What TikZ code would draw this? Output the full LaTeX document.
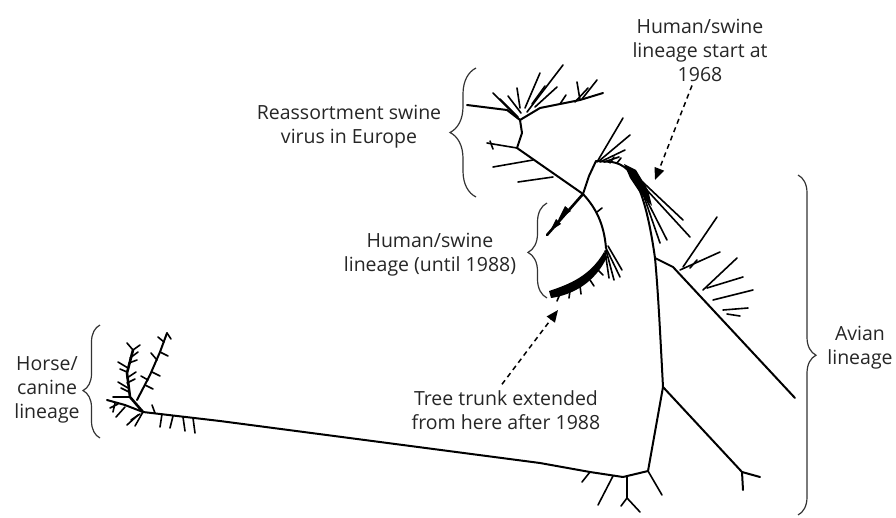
\documentclass[tikz,border=0pt]{standalone}
\usepackage{fontspec}
\setmainfont{Open Sans}
\usepackage{tikz}
\usetikzlibrary{arrows.meta, decorations.pathreplacing}

\begin{document}
\begin{tikzpicture}[x=1pt, y=-1pt,
    branch/.style={line width=2pt, line cap=round, line join=round},
    twig/.style={line width=1.6pt, line cap=round},
    lbl/.style={font=\fontsize{19.5}{24}\selectfont, text=black!85, align=center, inner sep=0pt},
    bracket/.style args={#1/#2}{decorate, decoration={brace, amplitude=#1, aspect=#2}, line width=1.2pt, draw=black!80},
    pointer/.style={dash pattern=on 5pt off 4pt, line width=1.5pt, -{Triangle[length=12pt, width=10pt]}},
]
\useasboundingbox (0,0) rectangle (896,517);

% Junctions of the tree
\coordinate (hc) at (143,412);
\coordinate (bj) at (648,471);
\coordinate (aj) at (663,387);
\coordinate (af) at (742,472);
\coordinate (ab) at (655,258);
\coordinate (hs) at (596,161);
\coordinate (xj) at (583,194);
\coordinate (ej) at (517,148);
\coordinate (et) at (520,120);
\coordinate (hl) at (606,248);

% Trunk and main branches
\draw[branch] (hc) -- (220,421) -- (540,463) -- (590,472) -- (623,477) -- (bj);
\draw[branch] (bj) -- (aj) .. controls (660,330) and (658,290) .. (ab)
    .. controls (651,230) and (646,205) .. (638,186)
    .. controls (632,172) and (624,164) .. (612,162) -- (hs);
\draw[branch] (ab) -- (673,267) -- (795,398);
\draw[branch] (aj) -- (af) -- (760,477);
\draw[branch] (af) -- (743,490);
\draw[branch] (hs) -- (589,176) -- (xj);
\draw[branch] (467,105) -- (507,110) -- (et) -- (540,108) -- (580,100) -- (603,93);
\draw[branch] (et) -- (522,133) -- (ej) -- (xj);
\draw[branch] (xj) .. controls (596,208) and (604,224) .. (hl);
\draw[line width=2.6pt, line cap=round] (xj) -- (547,235);

% Horse/canine cluster
\draw[line width=2.6pt, line cap=round, line join=round] (hc) -- (130,397) -- (127,373) -- (133,350);
\draw[branch] (137,400) -- (150,375) -- (160,352) -- (167,333);
\draw[branch] (hc) -- (125,405) -- (107,400);
\foreach \xa/\ya/\xb/\yb in {130/397/113/397, 128/388/118/382, 127/378/136/372,
    128/368/118/362, 130/358/138/352, 133/350/127/343, 133/350/140/345,
    129/392/121/388, 127/383/135/379, 127/372/120/369, 129/363/137/360,
    145/385/153/389, 152/372/160/376, 157/360/151/353, 160/352/168/356,
    164/342/158/337, 167/333/171/339, 148/380/141/376, 115/403/113/412,
    125/407/116/417, 138/415/127/425, 143/412/135/426, 140/414/131/420,
    118/404/110/408, 162/414/160/427, 173/416/170/428, 183/417/185/431,
    193/418/195/433, 155/413/152/405}
    \draw[twig] (\xa,\ya) -- (\xb,\yb);

% Bottom of the trunk
\foreach \xa/\ya/\xb/\yb in {590/472/582/482, 613/476/598/505, 627/477/627/498,
    627/498/640/512, 627/498/621/506, 648/471/662/495}
    \draw[twig] (\xa,\ya) -- (\xb,\yb);

% Avian twigs
\foreach \xa/\ya/\xb/\yb in {683/267/717/217, 680/270/720/252, 690/268/697/260,
    703/290/737/258, 707/288/743/277, 713/300/753/290, 723/310/748/308,
    727/314/740/316}
    \draw[twig] (\xa,\ya) -- (\xb,\yb);

% Reassortment swine in Europe
\foreach \xa/\ya/\xb/\yb in {493/93/520/120, 500/99/518/117, 508/96/521/113,
    525/108/540/73, 527/112/563/65, 535/107/557/87, 532/104/545/86,
    517/88/520/108, 580/100/577/82, 582/99/597/80, 575/102/588/88,
    560/104/566/95, 487/143/517/148, 490/141/493/149, 533/160/493/167,
    553/177/518/182}
    \draw[twig] (\xa,\ya) -- (\xb,\yb);

% Human/swine, start at 1968
\fill (624,164) -- (636,170) -- (648,190) -- (652,206) -- (640,193) -- (630,178) -- cycle;
\foreach \xa/\ya/\xb/\yb in {597/162/623/118, 599/161/630/135, 600/162/625/150,
    604/162/619/157, 610/163/614/157, 617/163/621/158, 632/172/683/220,
    634/176/690/237, 637/181/667/240, 640/185/660/243}
    \draw[twig] (\xa,\ya) -- (\xb,\yb);

% Human/swine until 1988
\fill (565,206) -- (558,220) -- (571,211) -- cycle;
\fill (556,219) -- (550,231) -- (561,224) -- cycle;
\fill (549,291) .. controls (570,284) and (590,276) .. (604,252)
    -- (607,257) .. controls (595,283) and (572,295) .. (551,298) -- cycle;
\foreach \xa/\ya/\xb/\yb in {560/294/557/301, 570/291/569/298, 580/286/581/294,
    590/280/594/286, 598/270/603/275, 606/248/620/277, 606/250/614/280,
    608/246/622/270, 605/251/609/278, 597/212/602/208}
    \draw[twig] (\xa,\ya) -- (\xb,\yb);

% Brackets
\draw[bracket=26/0.5] (476,197) -- (476,68);
\draw[bracket=19/0.48] (547,298) -- (547,203);
\draw[bracket=17/0.42] (100,438) -- (100,325);
\draw[bracket=18/0.53] (798,175) -- (798,515);

% Labels
\node[lbl] (europe) at (349,127) {Reassortment swine\\virus in Europe};
\node[lbl] (hs88) at (430,255) {Human/swine\\lineage (until 1988)};
\node[lbl] (hs68) at (700,50) {Human/swine\\lineage start at\\1968};
\node[lbl] (horse) at (47,390) {Horse/\\canine\\lineage};
\node[lbl] (avian) at (860,348) {Avian\\lineage};
\node[lbl] (trunk) at (506,410) {Tree trunk extended\\from here after 1988};

% Pointers
\coordinate (tip68) at (655,180);
\coordinate (tiptrunk) at (558,310);
\draw[pointer] ([xshift=-8pt, yshift=-4pt]hs68.south) -- (tip68);
\draw[pointer] ([xshift=-4pt, yshift=6pt]trunk.north) -- (tiptrunk);

\end{tikzpicture}
\end{document}
